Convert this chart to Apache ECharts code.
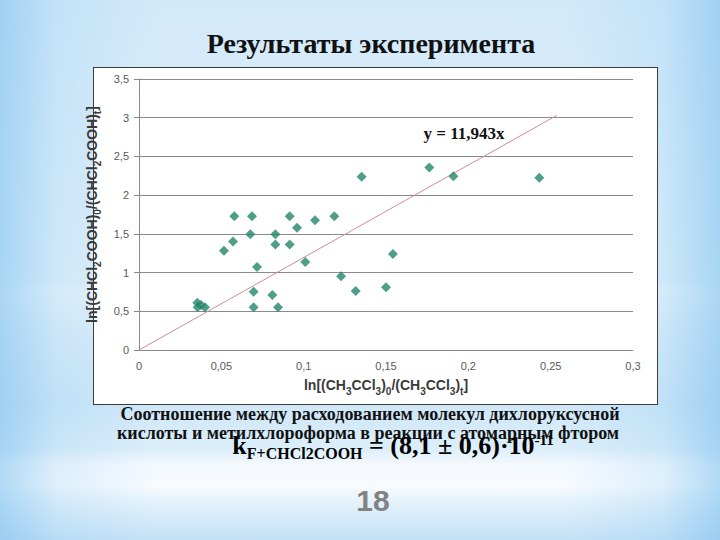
<!DOCTYPE html>
<html><head><meta charset="utf-8">
<script src="https://cdn.jsdelivr.net/npm/echarts@6/dist/echarts.min.js"></script>
<style>
html,body{margin:0;padding:0;width:720px;height:540px;overflow:hidden;}
body{
  background:
    linear-gradient(to right, rgba(120,190,238,0.55) 0%, rgba(150,205,242,0.25) 8%, rgba(150,205,242,0) 22%, rgba(150,205,242,0) 78%, rgba(150,205,242,0.25) 92%, rgba(120,190,238,0.55) 100%),
    linear-gradient(to bottom, #d2e9f9 0%, #dbeefa 30%, #e2f1fb 52%, #eaf5fc 54%, #dcedf9 62%, #cfe7f8 75%, #dbeefa 83%, #f4f9fe 86%, #f7fbfe 90%, #e4f2fc 93%, #c4e1f6 100%);
}
#box{position:absolute;left:93px;top:67px;width:563px;height:336px;background:#fff;border:1px solid #3c3c3c;}
#chart{position:absolute;left:0;top:0;width:720px;height:540px;}
</style></head><body>
<div id="box"></div><div id="chart"></div>
<script>
// ---- data ----
const xValues = [0.0354, 0.0377, 0.0356, 0.0401, 0.0516, 0.0571, 0.0579, 0.0676, 0.0686, 0.0717,
                 0.0696, 0.0696, 0.0810, 0.0828, 0.0828, 0.0844, 0.0915, 0.0915, 0.0960, 0.1010,
                 0.1069, 0.1186, 0.1227, 0.1316, 0.1352, 0.1500, 0.1542, 0.1763, 0.1909, 0.2431];
const yValues = [0.611, 0.581, 0.551, 0.551, 1.283, 1.400, 1.727, 1.494, 1.727, 1.072,
                 0.753, 0.551, 0.711, 1.494, 1.361, 0.551, 1.727, 1.361, 1.580, 1.137,
                 1.675, 1.727, 0.952, 0.762, 2.239, 0.810, 1.240, 2.356, 2.244, 2.226];
const trendSlope = 11.943;
const trendXRange = [0, 0.2537];
const xAxisTicks = [0, 0.05, 0.1, 0.15, 0.2, 0.25, 0.3];
const yAxisTicks = [0, 0.5, 1, 1.5, 2, 2.5, 3, 3.5];
const titleText = 'Результаты эксперимента';
const captionLines = ['Соотношение между расходованием молекул дихлоруксусной',
                      'кислоты и метилхлороформа в реакции с атомарным фтором'];
const equationText = 'y = 11,943x';
const pageNumber = '18';

const points = xValues.map((x, i) => [x, yValues[i]]);
const trendPoints = trendXRange.map(x => [x, trendSlope * x]);
const fmt = v => String(+v.toFixed(3)).replace('.', ',');

const serif = '"Liberation Serif","Times New Roman",serif';
const sans = '"Liberation Sans",Arial,sans-serif';
const nameRich = {
  n: {fontSize: 14, fontWeight: 'bold', fontFamily: sans, color: '#3a3a3a', lineHeight: 18, verticalAlign: 'top'},
  s: {fontSize: 10, fontWeight: 'bold', fontFamily: sans, color: '#3a3a3a', lineHeight: 17, verticalAlign: 'bottom'}
};

const chart = echarts.init(document.getElementById('chart'), null, {renderer: 'svg'});
chart.setOption({
  backgroundColor: 'transparent',
  animation: false,
  grid: {left: 139, right: 87, top: 79, bottom: 190, containLabel: false},
  xAxis: {
    type: 'value', min: xAxisTicks[0], max: xAxisTicks[xAxisTicks.length - 1], interval: 0.05,
    axisLine: {show: true, lineStyle: {color: '#8a8a8a', width: 1}},
    axisTick: {show: false},
    splitLine: {show: false},
    axisLabel: {color: '#595959', fontSize: 11, fontFamily: sans, margin: 10, formatter: fmt},
    name: '{n|ln[(CH}{s|3}{n|CCl}{s|3}{n|)}{s|0}{n|/(CH}{s|3}{n|CCl}{s|3}{n|)}{s|t}{n|]}',
    nameLocation: 'middle', nameGap: 28,
    nameTextStyle: {rich: nameRich}
  },
  yAxis: {
    type: 'value', min: yAxisTicks[0], max: yAxisTicks[yAxisTicks.length - 1], interval: 0.5,
    axisLine: {show: true, lineStyle: {color: '#8a8a8a', width: 1}},
    axisTick: {show: true, length: 5, lineStyle: {color: '#8a8a8a'}},
    splitLine: {show: true, lineStyle: {color: '#8a8a8a', width: 1}},
    axisLabel: {color: '#595959', fontSize: 11, fontFamily: sans, margin: 10, formatter: fmt},
    name: '{n|ln[(CHCl}{s|2}{n|COOH)}{s|0}{n|/(CHCl}{s|2}{n|COOH)}{s|t}{n|]}',
    nameLocation: 'middle', nameGap: 25, nameRotate: 90,
    nameTextStyle: {rich: nameRich}
  },
  series: [
    {
      type: 'line', data: trendPoints, symbol: 'none', silent: true,
      lineStyle: {color: '#d08d94', width: 1}, z: 3
    },
    {
      type: 'scatter', data: points, symbol: 'diamond', symbolSize: [10, 10],
      itemStyle: {color: '#23876a'}, z: 4
    }
  ],
  graphic: [
    {type: 'text', x: 371, y: 43, style: {text: titleText, font: 'bold 28px ' + serif, fill: '#111', textAlign: 'center', textVerticalAlign: 'middle', verticalAlign: 'middle'}},
    {type: 'text', x: 464, y: 133, z: 10, style: {text: equationText, font: 'bold 17px ' + serif, fill: '#111', textAlign: 'center', textVerticalAlign: 'middle', verticalAlign: 'middle'}},
    {type: 'text', x: 370, y: 414, style: {text: captionLines[0], font: 'bold 18px ' + serif, fill: '#111', textAlign: 'center', textVerticalAlign: 'middle', verticalAlign: 'middle'}},
    {type: 'text', x: 368, y: 433, style: {text: captionLines[1], font: 'bold 18px ' + serif, fill: '#111', textAlign: 'center', textVerticalAlign: 'middle', verticalAlign: 'middle'}},
    {type: 'text', x: 393, y: 447, z: 11, style: {
      text: '{m|k}{s|F+CHCl2COOH}{m| = (8,1 ± 0,6)·10}{p|-11}',
      textAlign: 'center', textVerticalAlign: 'middle', verticalAlign: 'middle',
      rich: {
        m: {fontSize: 26, fontWeight: 'bold', fontFamily: serif, color: '#111', lineHeight: 28, verticalAlign: 'top'},
        s: {fontSize: 16, fontWeight: 'bold', fontFamily: serif, color: '#111', lineHeight: 29, verticalAlign: 'bottom'},
        p: {fontSize: 15, fontWeight: 'bold', fontFamily: serif, color: '#111', lineHeight: 14, verticalAlign: 'top'}
      }
    }},
    {type: 'text', x: 373, y: 500, style: {text: pageNumber, font: 'bold 30px ' + sans, fill: '#828282', textAlign: 'center', textVerticalAlign: 'middle', verticalAlign: 'middle'}}
  ]
});
</script>
</body></html>
